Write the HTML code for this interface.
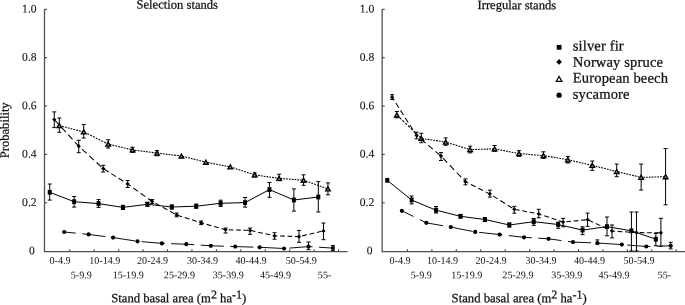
<!DOCTYPE html>
<html><head><meta charset="utf-8"><style>
html,body{margin:0;padding:0;background:#fff;}
body{width:685px;height:305px;overflow:hidden;position:relative;}
svg{position:absolute;left:0;top:0;transform:translateZ(0);}
text{font-family:"Liberation Serif",serif;fill:#111;font-variant-ligatures:none;font-feature-settings:"liga" 0;stroke:#111;stroke-width:0.25px;}
</style></head><body>
<svg width="685" height="305" viewBox="0 0 685 305">
<path d="M44.50 9.3V251.70H347.60" fill="none" stroke="#505050" stroke-width="1.3"/>
<path d="M44.50 202.82H47.10" stroke="#444" stroke-width="1.1"/>
<path d="M44.50 154.44H47.10" stroke="#444" stroke-width="1.1"/>
<path d="M44.50 106.06H47.10" stroke="#444" stroke-width="1.1"/>
<path d="M44.50 57.68H47.10" stroke="#444" stroke-width="1.1"/>
<path d="M44.50 9.30H47.10" stroke="#444" stroke-width="1.1"/>
<path d="M69.80 251.70V249.30" stroke="#444" stroke-width="1.1"/>
<path d="M94.23 251.70V249.30" stroke="#444" stroke-width="1.1"/>
<path d="M118.66 251.70V249.30" stroke="#444" stroke-width="1.1"/>
<path d="M143.09 251.70V249.30" stroke="#444" stroke-width="1.1"/>
<path d="M167.52 251.70V249.30" stroke="#444" stroke-width="1.1"/>
<path d="M191.95 251.70V249.30" stroke="#444" stroke-width="1.1"/>
<path d="M216.38 251.70V249.30" stroke="#444" stroke-width="1.1"/>
<path d="M240.81 251.70V249.30" stroke="#444" stroke-width="1.1"/>
<path d="M265.24 251.70V249.30" stroke="#444" stroke-width="1.1"/>
<path d="M289.67 251.70V249.30" stroke="#444" stroke-width="1.1"/>
<path d="M314.10 251.70V249.30" stroke="#444" stroke-width="1.1"/>
<path d="M338.53 251.70V249.30" stroke="#444" stroke-width="1.1"/>
<path d="M59.31 125.60L61.06 126.05M62.11 126.32L63.86 126.77M64.91 127.04L66.66 127.50M67.71 127.77L69.46 128.22M70.51 128.49L72.26 128.94M73.31 129.21L75.06 129.66M76.11 129.93L77.86 130.39M78.91 130.66L80.66 131.11M81.71 131.38L83.46 131.83M84.51 132.29L86.26 133.16M87.31 133.69L89.06 134.56M90.11 135.09L91.86 135.96M92.91 136.48L94.66 137.36M95.71 137.88L97.46 138.76M98.51 139.28L100.26 140.16M101.31 140.68L103.06 141.55M104.11 142.08L105.86 142.95M106.91 143.48L108.16 144.10L108.66 144.22M109.71 144.47L111.46 144.88M112.51 145.13L114.26 145.55M115.31 145.80L117.06 146.21M118.11 146.46L119.86 146.88M120.91 147.13L122.66 147.54M123.71 147.79L125.46 148.21M126.51 148.46L128.26 148.87M129.31 149.12L131.06 149.54M132.11 149.79L132.58 149.90L133.86 150.07M134.91 150.21L136.66 150.43M137.71 150.57L139.46 150.80M140.51 150.94L142.26 151.17M143.31 151.31L145.06 151.54M146.11 151.67L147.86 151.90M148.91 152.04L150.66 152.27M151.71 152.41L153.46 152.64M154.51 152.77L156.26 153.00M157.31 153.14L159.06 153.34M160.11 153.47L161.86 153.68M162.91 153.80L164.66 154.01M165.71 154.13L167.46 154.34M168.51 154.47L170.26 154.67M171.31 154.80L173.06 155.01M174.11 155.13L175.86 155.34M176.91 155.46L178.66 155.67M179.71 155.80L181.43 156.00L181.46 156.01M182.51 156.28L184.26 156.72M185.31 156.99L187.06 157.43M188.11 157.70L189.86 158.14M190.91 158.41L192.66 158.85M193.71 159.12L195.46 159.56M196.51 159.83L198.26 160.27M199.31 160.54L201.06 160.98M202.11 161.25L203.86 161.70M204.91 161.96L205.85 162.20L206.66 162.36M207.71 162.56L209.46 162.90M210.51 163.10L212.26 163.43M213.31 163.64L215.06 163.97M216.11 164.17L217.86 164.51M218.91 164.71L220.66 165.05M221.71 165.25L223.46 165.59M224.51 165.79L226.26 166.13M227.31 166.33L229.06 166.67M230.11 166.87L230.27 166.90L231.86 167.42M232.91 167.76L234.66 168.34M235.71 168.68L237.46 169.25M238.51 169.60L240.26 170.17M241.31 170.52L243.06 171.09M244.11 171.43L245.86 172.01M246.91 172.35L248.66 172.92M249.71 173.27L251.46 173.84M252.51 174.18L254.26 174.76M255.31 174.99L257.06 175.24M258.11 175.39L259.86 175.64M260.91 175.79L262.66 176.04M263.71 176.19L265.46 176.44M266.51 176.59L268.26 176.84M269.31 176.99L271.06 177.25M272.11 177.40L273.86 177.65M274.91 177.80L276.66 178.05M277.71 178.20L279.12 178.40L279.46 178.43M280.51 178.50L282.26 178.63M283.31 178.71L285.06 178.84M286.11 178.92L287.86 179.04M288.91 179.12L290.66 179.25M291.71 179.33L293.46 179.46M294.51 179.53L296.26 179.66M297.31 179.74L299.06 179.87M300.11 179.95L301.86 180.08M302.91 180.15L303.54 180.20L304.66 180.60M305.71 180.97L307.46 181.60M308.51 181.97L310.26 182.59M311.31 182.97L313.06 183.59M314.11 183.97L315.86 184.59M316.91 184.96L318.66 185.59M319.71 185.96L321.46 186.58M322.51 186.96L324.26 187.58M325.31 187.95L327.06 188.58" fill="none" stroke="#000" stroke-width="1.1"/>
<path d="M59.31 118.00V132.30M57.31 118.00H61.31M57.31 132.30H61.31" stroke="#000" stroke-width="1"/>
<path d="M83.73 124.60V138.00M81.73 124.60H85.73M81.73 138.00H85.73" stroke="#000" stroke-width="1"/>
<path d="M108.16 139.80V148.00M106.16 139.80H110.16M106.16 148.00H110.16" stroke="#000" stroke-width="1"/>
<path d="M132.58 147.30V152.50M130.58 147.30H134.58M130.58 152.50H134.58" stroke="#000" stroke-width="1"/>
<path d="M157.00 150.60V155.80M155.00 150.60H159.00M155.00 155.80H159.00" stroke="#000" stroke-width="1"/>
<path d="M254.69 172.80V177.00M252.69 172.80H256.69M252.69 177.00H256.69" stroke="#000" stroke-width="1"/>
<path d="M279.12 174.20V180.70M277.12 174.20H281.12M277.12 180.70H281.12" stroke="#000" stroke-width="1"/>
<path d="M303.54 174.80V185.30M301.54 174.80H305.54M301.54 185.30H305.54" stroke="#000" stroke-width="1"/>
<path d="M327.96 182.90V194.80M325.96 182.90H329.96M325.96 194.80H329.96" stroke="#000" stroke-width="1"/>
<path d="M59.31 123.60L61.61 127.60L57.01 127.60Z" fill="#999" stroke="#000" stroke-width="1.35"/>
<path d="M83.73 129.90L86.03 133.90L81.43 133.90Z" fill="#999" stroke="#000" stroke-width="1.35"/>
<path d="M108.16 142.10L110.46 146.10L105.86 146.10Z" fill="#999" stroke="#000" stroke-width="1.35"/>
<path d="M132.58 147.90L134.88 151.90L130.28 151.90Z" fill="#999" stroke="#000" stroke-width="1.35"/>
<path d="M157.00 151.10L159.30 155.10L154.70 155.10Z" fill="#999" stroke="#000" stroke-width="1.35"/>
<path d="M181.43 154.00L183.73 158.00L179.12 158.00Z" fill="#999" stroke="#000" stroke-width="1.35"/>
<path d="M205.85 160.20L208.15 164.20L203.55 164.20Z" fill="#999" stroke="#000" stroke-width="1.35"/>
<path d="M230.27 164.90L232.57 168.90L227.97 168.90Z" fill="#999" stroke="#000" stroke-width="1.35"/>
<path d="M254.69 172.90L256.99 176.90L252.39 176.90Z" fill="#999" stroke="#000" stroke-width="1.35"/>
<path d="M279.12 176.40L281.42 180.40L276.82 180.40Z" fill="#999" stroke="#000" stroke-width="1.35"/>
<path d="M303.54 178.20L305.84 182.20L301.24 182.20Z" fill="#999" stroke="#000" stroke-width="1.35"/>
<path d="M327.96 186.90L330.26 190.90L325.66 190.90Z" fill="#999" stroke="#000" stroke-width="1.35"/>
<path d="M54.75 120.04L59.06 124.74M61.48 127.38L65.79 132.08M68.21 134.72L72.52 139.42M74.94 142.06L78.73 146.20L79.30 146.71M81.94 149.12L86.64 153.40M89.28 155.80L93.98 160.09M96.62 162.49L101.32 166.77M103.96 168.97L108.66 171.95M111.30 173.62L116.00 176.60M118.64 178.27L123.34 181.25M125.98 182.92L127.69 184.00L130.68 186.14M133.32 188.03L138.02 191.39M140.66 193.27L145.36 196.63M148.00 198.52L152.16 201.50L152.70 201.79M155.34 203.24L160.03 205.81M162.68 207.26L167.38 209.83M170.02 211.28L174.72 213.85M177.36 215.13L182.06 216.65M184.69 217.50L189.40 219.02M192.03 219.87L196.74 221.39M199.38 222.24L201.11 222.80L204.08 223.64M206.72 224.38L211.41 225.71M214.06 226.45L218.75 227.77M221.40 228.52L225.59 229.70L226.09 229.71M228.74 229.79L233.44 229.92M236.07 230.00L240.78 230.13M243.41 230.21L248.12 230.34M250.75 230.55L255.46 231.59M258.10 232.17L262.80 233.21M265.44 233.79L270.13 234.83M272.78 235.41L274.54 235.80L277.48 235.90M280.12 235.98L284.81 236.14M287.45 236.22L292.16 236.38M294.80 236.46L299.01 236.60L299.50 236.49M302.13 235.87L306.84 234.78M309.47 234.16L314.18 233.07M316.81 232.45L321.51 231.36" fill="none" stroke="#000" stroke-width="1.05"/>
<path d="M54.26 111.90V127.60M52.26 111.90H56.26M52.26 127.60H56.26" stroke="#000" stroke-width="1"/>
<path d="M78.73 140.30V152.70M76.73 140.30H80.73M76.73 152.70H80.73" stroke="#000" stroke-width="1"/>
<path d="M103.21 165.30V172.00M101.21 165.30H105.21M101.21 172.00H105.21" stroke="#000" stroke-width="1"/>
<path d="M127.69 180.60V187.50M125.69 180.60H129.69M125.69 187.50H129.69" stroke="#000" stroke-width="1"/>
<path d="M152.16 199.50V203.50M150.16 199.50H154.16M150.16 203.50H154.16" stroke="#000" stroke-width="1"/>
<path d="M176.63 213.00V216.80M174.63 213.00H178.63M174.63 216.80H178.63" stroke="#000" stroke-width="1"/>
<path d="M201.11 221.00V224.60M199.11 221.00H203.11M199.11 224.60H203.11" stroke="#000" stroke-width="1"/>
<path d="M225.59 228.10V233.00M223.59 228.10H227.59M223.59 233.00H227.59" stroke="#000" stroke-width="1"/>
<path d="M250.06 228.10V234.30M248.06 228.10H252.06M248.06 234.30H252.06" stroke="#000" stroke-width="1"/>
<path d="M274.54 232.70V239.20M272.54 232.70H276.54M272.54 239.20H276.54" stroke="#000" stroke-width="1"/>
<path d="M299.01 230.40V242.30M297.01 230.40H301.01M297.01 242.30H301.01" stroke="#000" stroke-width="1"/>
<path d="M323.49 223.00V239.70M321.49 223.00H325.49M321.49 239.70H325.49" stroke="#000" stroke-width="1"/>
<path d="M54.26 117.40L56.36 119.50L54.26 121.60L52.16 119.50Z" fill="#000"/>
<path d="M78.73 144.10L80.83 146.20L78.73 148.30L76.64 146.20Z" fill="#000"/>
<path d="M103.21 166.40L105.31 168.50L103.21 170.60L101.11 168.50Z" fill="#000"/>
<path d="M127.69 181.90L129.78 184.00L127.69 186.10L125.59 184.00Z" fill="#000"/>
<path d="M152.16 199.40L154.26 201.50L152.16 203.60L150.06 201.50Z" fill="#000"/>
<path d="M176.63 212.80L178.73 214.90L176.63 217.00L174.53 214.90Z" fill="#000"/>
<path d="M201.11 220.70L203.21 222.80L201.11 224.90L199.01 222.80Z" fill="#000"/>
<path d="M225.59 227.60L227.69 229.70L225.59 231.80L223.49 229.70Z" fill="#000"/>
<path d="M250.06 228.30L252.16 230.40L250.06 232.50L247.96 230.40Z" fill="#000"/>
<path d="M274.54 233.70L276.64 235.80L274.54 237.90L272.44 235.80Z" fill="#000"/>
<path d="M299.01 234.50L301.11 236.60L299.01 238.70L296.91 236.60Z" fill="#000"/>
<path d="M323.49 228.80L325.59 230.90L323.49 233.00L321.38 230.90Z" fill="#000"/>
<path d="M64.20 232.00L75.80 233.14M82.30 233.78L88.63 234.40L105.40 236.60M111.90 237.45L113.06 237.60L135.00 240.92M141.50 241.65L161.91 243.40L164.60 243.49M171.10 243.70L186.34 244.20L194.20 244.71M200.70 245.14L210.77 245.80L223.80 246.23M230.30 246.44L235.20 246.60L253.40 247.12M259.90 247.31L283.00 248.45M289.50 248.08L308.48 246.60L312.60 246.85M319.10 247.25L332.91 248.10" fill="none" stroke="#000" stroke-width="0.95"/>
<path d="M308.48 242.00V249.70M306.48 242.00H310.48M306.48 249.70H310.48" stroke="#000" stroke-width="1"/>
<path d="M332.91 245.60V250.60M330.91 245.60H334.91M330.91 250.60H334.91" stroke="#000" stroke-width="1"/>
<circle cx="64.20" cy="232.00" r="2.10" fill="#000"/>
<circle cx="88.63" cy="234.40" r="2.10" fill="#000"/>
<circle cx="113.06" cy="237.60" r="2.10" fill="#000"/>
<circle cx="137.48" cy="241.30" r="2.10" fill="#000"/>
<circle cx="161.91" cy="243.40" r="2.10" fill="#000"/>
<circle cx="186.34" cy="244.20" r="2.10" fill="#000"/>
<circle cx="210.77" cy="245.80" r="2.10" fill="#000"/>
<circle cx="235.20" cy="246.60" r="2.10" fill="#000"/>
<circle cx="259.62" cy="247.30" r="2.10" fill="#000"/>
<circle cx="284.05" cy="248.50" r="2.10" fill="#000"/>
<circle cx="308.48" cy="246.60" r="2.10" fill="#000"/>
<circle cx="332.91" cy="248.10" r="2.10" fill="#000"/>
<path d="M49.73 192.30 L74.14 201.70 L98.56 203.60 L122.97 207.40 L147.39 204.30 L171.80 207.00 L196.22 206.20 L220.63 203.30 L245.05 202.60 L269.46 189.60 L293.88 200.00 L318.30 197.00" fill="none" stroke="#000" stroke-width="1.0"/>
<path d="M49.73 184.00V200.10M47.73 184.00H51.73M47.73 200.10H51.73" stroke="#000" stroke-width="1"/>
<path d="M74.14 196.50V207.10M72.14 196.50H76.14M72.14 207.10H76.14" stroke="#000" stroke-width="1"/>
<path d="M98.56 199.60V207.40M96.56 199.60H100.56M96.56 207.40H100.56" stroke="#000" stroke-width="1"/>
<path d="M122.97 205.30V209.50M120.97 205.30H124.97M120.97 209.50H124.97" stroke="#000" stroke-width="1"/>
<path d="M147.39 202.30V206.30M145.39 202.30H149.39M145.39 206.30H149.39" stroke="#000" stroke-width="1"/>
<path d="M171.80 205.00V209.00M169.80 205.00H173.80M169.80 209.00H173.80" stroke="#000" stroke-width="1"/>
<path d="M196.22 204.20V208.20M194.22 204.20H198.22M194.22 208.20H198.22" stroke="#000" stroke-width="1"/>
<path d="M220.63 200.20V206.50M218.63 200.20H222.63M218.63 206.50H222.63" stroke="#000" stroke-width="1"/>
<path d="M245.05 197.50V207.10M243.05 197.50H247.05M243.05 207.10H247.05" stroke="#000" stroke-width="1"/>
<path d="M269.46 182.50V197.30M267.46 182.50H271.46M267.46 197.30H271.46" stroke="#000" stroke-width="1"/>
<path d="M293.88 188.90V211.10M291.88 188.90H295.88M291.88 211.10H295.88" stroke="#000" stroke-width="1"/>
<path d="M318.30 181.60V212.00M316.30 181.60H320.30M316.30 212.00H320.30" stroke="#000" stroke-width="1"/>
<rect x="47.73" y="189.90" width="4.00" height="4.80" fill="#000"/>
<rect x="72.14" y="199.30" width="4.00" height="4.80" fill="#000"/>
<rect x="96.56" y="201.20" width="4.00" height="4.80" fill="#000"/>
<rect x="120.97" y="205.00" width="4.00" height="4.80" fill="#000"/>
<rect x="145.39" y="201.90" width="4.00" height="4.80" fill="#000"/>
<rect x="169.80" y="204.60" width="4.00" height="4.80" fill="#000"/>
<rect x="194.22" y="203.80" width="4.00" height="4.80" fill="#000"/>
<rect x="218.63" y="200.90" width="4.00" height="4.80" fill="#000"/>
<rect x="243.05" y="200.20" width="4.00" height="4.80" fill="#000"/>
<rect x="267.46" y="187.20" width="4.00" height="4.80" fill="#000"/>
<rect x="291.88" y="197.60" width="4.00" height="4.80" fill="#000"/>
<rect x="316.30" y="194.60" width="4.00" height="4.80" fill="#000"/>
<path d="M382.15 9.3V251.70H685.25" fill="none" stroke="#505050" stroke-width="1.3"/>
<path d="M382.15 202.82H384.75" stroke="#444" stroke-width="1.1"/>
<path d="M382.15 154.44H384.75" stroke="#444" stroke-width="1.1"/>
<path d="M382.15 106.06H384.75" stroke="#444" stroke-width="1.1"/>
<path d="M382.15 57.68H384.75" stroke="#444" stroke-width="1.1"/>
<path d="M382.15 9.30H384.75" stroke="#444" stroke-width="1.1"/>
<path d="M407.45 251.70V249.30" stroke="#444" stroke-width="1.1"/>
<path d="M431.88 251.70V249.30" stroke="#444" stroke-width="1.1"/>
<path d="M456.31 251.70V249.30" stroke="#444" stroke-width="1.1"/>
<path d="M480.74 251.70V249.30" stroke="#444" stroke-width="1.1"/>
<path d="M505.17 251.70V249.30" stroke="#444" stroke-width="1.1"/>
<path d="M529.60 251.70V249.30" stroke="#444" stroke-width="1.1"/>
<path d="M554.03 251.70V249.30" stroke="#444" stroke-width="1.1"/>
<path d="M578.46 251.70V249.30" stroke="#444" stroke-width="1.1"/>
<path d="M602.89 251.70V249.30" stroke="#444" stroke-width="1.1"/>
<path d="M627.32 251.70V249.30" stroke="#444" stroke-width="1.1"/>
<path d="M651.75 251.70V249.30" stroke="#444" stroke-width="1.1"/>
<path d="M676.18 251.70V249.30" stroke="#444" stroke-width="1.1"/>
<path d="M396.84 115.00L398.59 116.68M399.64 117.68L401.39 119.36M402.44 120.36L404.19 122.04M405.24 123.05L406.99 124.72M408.04 125.73L409.79 127.40M410.84 128.41L412.59 130.09M413.64 131.09L415.39 132.77M416.44 133.77L418.19 135.45M419.24 136.46L420.99 138.13M422.04 138.52L423.79 138.78M424.84 138.94L426.59 139.21M427.64 139.36L429.39 139.63M430.44 139.79L432.19 140.05M433.24 140.21L434.99 140.48M436.04 140.64L437.79 140.90M438.84 141.06L440.59 141.33M441.64 141.49L443.39 141.75M444.44 141.91L445.70 142.10L446.19 142.25M447.24 142.57L448.99 143.11M450.04 143.43L451.79 143.97M452.84 144.29L454.59 144.83M455.64 145.15L457.39 145.69M458.44 146.01L460.19 146.55M461.24 146.87L462.99 147.41M464.04 147.73L465.79 148.27M466.84 148.59L468.59 149.13M469.64 149.45L470.13 149.60L471.39 149.56M472.44 149.53L474.19 149.48M475.24 149.45L476.99 149.40M478.04 149.37L479.79 149.32M480.84 149.29L482.59 149.24M483.64 149.21L485.39 149.16M486.44 149.13L488.19 149.08M489.24 149.05L490.99 149.00M492.04 148.97L493.79 148.92M494.84 148.95L496.59 149.29M497.64 149.49L499.39 149.83M500.44 150.03L502.19 150.37M503.24 150.57L504.99 150.91M506.04 151.11L507.79 151.45M508.84 151.65L510.59 151.98M511.64 152.19L513.39 152.52M514.44 152.72L516.19 153.06M517.24 153.26L518.99 153.60M520.04 153.69L521.79 153.83M522.84 153.92L524.59 154.06M525.64 154.14L527.39 154.29M528.44 154.37L530.19 154.52M531.24 154.60L532.99 154.75M534.04 154.83L535.79 154.98M536.84 155.06L538.59 155.20M539.64 155.29L541.39 155.43M542.44 155.52L543.42 155.60L544.19 155.73M545.24 155.91L546.99 156.20M548.04 156.38L549.79 156.67M550.84 156.85L552.59 157.14M553.64 157.32L555.39 157.61M556.44 157.79L558.19 158.08M559.24 158.26L560.99 158.55M562.04 158.72L563.79 159.02M564.84 159.19L566.59 159.49M567.64 159.66L567.85 159.70L569.39 160.06M570.44 160.30L572.19 160.71M573.24 160.96L574.99 161.37M576.04 161.61L577.79 162.02M578.84 162.26L580.59 162.67M581.64 162.92L583.39 163.33M584.44 163.57L586.19 163.98M587.24 164.22L588.99 164.63M590.04 164.88L591.79 165.29M592.84 165.54L594.59 165.98M595.64 166.24L597.39 166.68M598.44 166.94L600.19 167.38M601.24 167.64L602.99 168.07M604.04 168.34L605.79 168.77M606.84 169.04L608.59 169.47M609.64 169.73L611.39 170.17M612.44 170.43L614.19 170.87M615.24 171.13L616.71 171.50L616.99 171.57M618.04 171.82L619.79 172.24M620.84 172.50L622.59 172.92M623.64 173.17L625.39 173.60M626.44 173.85L628.19 174.27M629.24 174.53L630.99 174.95M632.04 175.20L633.79 175.62M634.84 175.88L636.59 176.30M637.64 176.55L639.39 176.98M640.44 177.23L641.14 177.40L642.19 177.37M643.24 177.34L644.99 177.29M646.04 177.26L647.79 177.21M648.84 177.18L650.59 177.13M651.64 177.10L653.39 177.05M654.44 177.02L656.19 176.97M657.24 176.94L658.99 176.89M660.04 176.86L661.79 176.81M662.84 176.78L664.59 176.73" fill="none" stroke="#000" stroke-width="1.1"/>
<path d="M396.84 111.50V117.80M394.84 111.50H398.84M394.84 117.80H398.84" stroke="#000" stroke-width="1"/>
<path d="M421.27 133.30V142.70M419.27 133.30H423.27M419.27 142.70H423.27" stroke="#000" stroke-width="1"/>
<path d="M445.70 137.90V145.30M443.70 137.90H447.70M443.70 145.30H447.70" stroke="#000" stroke-width="1"/>
<path d="M470.13 146.20V152.90M468.13 146.20H472.13M468.13 152.90H472.13" stroke="#000" stroke-width="1"/>
<path d="M494.56 145.50V151.40M492.56 145.50H496.56M492.56 151.40H496.56" stroke="#000" stroke-width="1"/>
<path d="M518.99 150.70V156.30M516.99 150.70H520.99M516.99 156.30H520.99" stroke="#000" stroke-width="1"/>
<path d="M543.42 151.80V158.40M541.42 151.80H545.42M541.42 158.40H545.42" stroke="#000" stroke-width="1"/>
<path d="M567.85 156.40V163.00M565.85 156.40H569.85M565.85 163.00H569.85" stroke="#000" stroke-width="1"/>
<path d="M592.28 161.00V170.30M590.28 161.00H594.28M590.28 170.30H594.28" stroke="#000" stroke-width="1"/>
<path d="M616.71 164.10V176.70M614.71 164.10H618.71M614.71 176.70H618.71" stroke="#000" stroke-width="1"/>
<path d="M641.14 164.10V190.00M639.14 164.10H643.14M639.14 190.00H643.14" stroke="#000" stroke-width="1"/>
<path d="M665.57 148.50V204.80M663.57 148.50H667.57M663.57 204.80H667.57" stroke="#000" stroke-width="1"/>
<path d="M396.84 113.00L399.14 117.00L394.54 117.00Z" fill="#999" stroke="#000" stroke-width="1.35"/>
<path d="M421.27 136.40L423.57 140.40L418.97 140.40Z" fill="#999" stroke="#000" stroke-width="1.35"/>
<path d="M445.70 140.10L448.00 144.10L443.40 144.10Z" fill="#999" stroke="#000" stroke-width="1.35"/>
<path d="M470.13 147.60L472.43 151.60L467.83 151.60Z" fill="#999" stroke="#000" stroke-width="1.35"/>
<path d="M494.56 146.90L496.86 150.90L492.26 150.90Z" fill="#999" stroke="#000" stroke-width="1.35"/>
<path d="M518.99 151.60L521.29 155.60L516.69 155.60Z" fill="#999" stroke="#000" stroke-width="1.35"/>
<path d="M543.42 153.60L545.72 157.60L541.12 157.60Z" fill="#999" stroke="#000" stroke-width="1.35"/>
<path d="M567.85 157.70L570.15 161.70L565.55 161.70Z" fill="#999" stroke="#000" stroke-width="1.35"/>
<path d="M592.28 163.40L594.58 167.40L589.98 167.40Z" fill="#999" stroke="#000" stroke-width="1.35"/>
<path d="M616.71 169.50L619.01 173.50L614.41 173.50Z" fill="#999" stroke="#000" stroke-width="1.35"/>
<path d="M641.14 175.40L643.44 179.40L638.84 179.40Z" fill="#999" stroke="#000" stroke-width="1.35"/>
<path d="M665.57 174.70L667.87 178.70L663.27 178.70Z" fill="#999" stroke="#000" stroke-width="1.35"/>
<path d="M392.12 97.20L394.16 100.40M395.85 103.04L398.84 107.74M400.53 110.38L403.53 115.08M405.21 117.72L408.21 122.42M409.89 125.06L412.89 129.76M414.58 132.40L416.56 135.50L418.16 136.84M420.80 139.06L425.50 143.00M428.13 145.22L432.84 149.16M435.48 151.37L440.18 155.32M442.73 157.82L447.19 162.53M449.70 165.16L454.17 169.87M456.68 172.50L461.15 177.20M463.66 179.84L465.43 181.70L468.27 183.13M470.91 184.46L475.61 186.83M478.25 188.16L482.95 190.52M485.59 191.85L489.86 194.00L490.29 194.27M492.93 195.92L497.63 198.87M500.27 200.52L504.97 203.46M507.61 205.11L512.31 208.06M514.95 209.42L519.65 210.31M522.29 210.81L526.99 211.69M529.63 212.19L534.33 213.07M536.97 213.57L538.73 213.90L541.67 214.89M544.31 215.77L549.01 217.35M551.65 218.24L556.35 219.81M558.99 220.70L563.16 222.10L563.69 222.05M566.33 221.79L571.03 221.33M573.67 221.07L578.37 220.61M581.01 220.35L585.71 219.89M588.35 220.05L593.05 222.22M595.69 223.44L600.39 225.61M603.03 226.84L607.73 229.01M610.37 230.23L612.03 231.00L615.07 231.20M617.71 231.37L622.41 231.68M625.05 231.85L629.75 232.16M632.39 232.33L636.47 232.60L637.09 232.61M639.73 232.63L644.43 232.67M647.07 232.69L651.77 232.73M654.41 232.75L659.11 232.79" fill="none" stroke="#000" stroke-width="1.05"/>
<path d="M392.12 94.70V99.50M390.12 94.70H394.12M390.12 99.50H394.12" stroke="#000" stroke-width="1"/>
<path d="M416.56 132.20V138.80M414.56 132.20H418.56M414.56 138.80H418.56" stroke="#000" stroke-width="1"/>
<path d="M440.99 152.60V160.50M438.99 152.60H442.99M438.99 160.50H442.99" stroke="#000" stroke-width="1"/>
<path d="M465.43 178.90V184.80M463.43 178.90H467.43M463.43 184.80H467.43" stroke="#000" stroke-width="1"/>
<path d="M489.86 190.20V197.10M487.86 190.20H491.86M487.86 197.10H491.86" stroke="#000" stroke-width="1"/>
<path d="M514.29 206.40V213.20M512.29 206.40H516.29M512.29 213.20H516.29" stroke="#000" stroke-width="1"/>
<path d="M538.73 209.30V217.80M536.73 209.30H540.73M536.73 217.80H540.73" stroke="#000" stroke-width="1"/>
<path d="M563.16 218.40V226.80M561.16 218.40H565.16M561.16 226.80H565.16" stroke="#000" stroke-width="1"/>
<path d="M587.60 213.10V226.40M585.60 213.10H589.60M585.60 226.40H589.60" stroke="#000" stroke-width="1"/>
<path d="M612.03 225.00V237.90M610.03 225.00H614.03M610.03 237.90H614.03" stroke="#000" stroke-width="1"/>
<path d="M636.47 212.00V251.00M634.47 212.00H638.47M634.47 251.00H638.47" stroke="#000" stroke-width="1"/>
<path d="M660.90 218.30V246.30M658.90 218.30H662.90M658.90 246.30H662.90" stroke="#000" stroke-width="1"/>
<path d="M392.12 95.10L394.22 97.20L392.12 99.30L390.02 97.20Z" fill="#000"/>
<path d="M416.56 133.40L418.66 135.50L416.56 137.60L414.45 135.50Z" fill="#000"/>
<path d="M440.99 153.90L443.09 156.00L440.99 158.10L438.89 156.00Z" fill="#000"/>
<path d="M465.43 179.60L467.53 181.70L465.43 183.80L463.32 181.70Z" fill="#000"/>
<path d="M489.86 191.90L491.96 194.00L489.86 196.10L487.76 194.00Z" fill="#000"/>
<path d="M514.29 207.20L516.39 209.30L514.29 211.40L512.19 209.30Z" fill="#000"/>
<path d="M538.73 211.80L540.83 213.90L538.73 216.00L536.63 213.90Z" fill="#000"/>
<path d="M563.16 220.00L565.26 222.10L563.16 224.20L561.06 222.10Z" fill="#000"/>
<path d="M587.60 217.60L589.70 219.70L587.60 221.80L585.50 219.70Z" fill="#000"/>
<path d="M612.03 228.90L614.13 231.00L612.03 233.10L609.93 231.00Z" fill="#000"/>
<path d="M636.47 230.50L638.57 232.60L636.47 234.70L634.37 232.60Z" fill="#000"/>
<path d="M660.90 230.70L663.00 232.80L660.90 234.90L658.80 232.80Z" fill="#000"/>
<path d="M401.87 210.80L413.47 216.50M419.97 219.69L426.31 222.80L443.07 225.75M449.57 226.89L450.75 227.10L472.67 231.41M479.17 232.34L499.63 234.60L502.27 234.89M508.77 235.61L524.07 237.30L531.87 237.78M538.37 238.18L548.51 238.80L561.47 240.55M567.97 241.43L572.95 242.10L591.07 242.77M597.57 243.01L620.67 244.52M627.17 245.02L646.27 246.50L650.27 246.39M656.77 246.20L670.71 245.80" fill="none" stroke="#000" stroke-width="0.95"/>
<path d="M597.39 239.90V244.00M595.39 239.90H599.39M595.39 244.00H599.39" stroke="#000" stroke-width="1"/>
<path d="M670.71 242.30V248.90M668.71 242.30H672.71M668.71 248.90H672.71" stroke="#000" stroke-width="1"/>
<circle cx="401.87" cy="210.80" r="2.10" fill="#000"/>
<circle cx="426.31" cy="222.80" r="2.10" fill="#000"/>
<circle cx="450.75" cy="227.10" r="2.10" fill="#000"/>
<circle cx="475.19" cy="231.90" r="2.10" fill="#000"/>
<circle cx="499.63" cy="234.60" r="2.10" fill="#000"/>
<circle cx="524.07" cy="237.30" r="2.10" fill="#000"/>
<circle cx="548.51" cy="238.80" r="2.10" fill="#000"/>
<circle cx="572.95" cy="242.10" r="2.10" fill="#000"/>
<circle cx="597.39" cy="243.00" r="2.10" fill="#000"/>
<circle cx="621.83" cy="244.60" r="2.10" fill="#000"/>
<circle cx="646.27" cy="246.50" r="2.10" fill="#000"/>
<circle cx="670.71" cy="245.80" r="2.10" fill="#000"/>
<path d="M387.23 180.30 L411.65 200.00 L436.07 210.20 L460.48 216.30 L484.90 219.50 L509.32 225.00 L533.74 221.70 L558.16 224.50 L582.57 230.10 L606.99 226.60 L631.41 230.80 L655.83 239.20" fill="none" stroke="#000" stroke-width="1.0"/>
<path d="M411.65 196.00V203.90M409.65 196.00H413.65M409.65 203.90H413.65" stroke="#000" stroke-width="1"/>
<path d="M436.07 206.50V213.00M434.07 206.50H438.07M434.07 213.00H438.07" stroke="#000" stroke-width="1"/>
<path d="M460.48 214.50V218.00M458.48 214.50H462.48M458.48 218.00H462.48" stroke="#000" stroke-width="1"/>
<path d="M484.90 217.50V221.50M482.90 217.50H486.90M482.90 221.50H486.90" stroke="#000" stroke-width="1"/>
<path d="M509.32 223.00V227.00M507.32 223.00H511.32M507.32 227.00H511.32" stroke="#000" stroke-width="1"/>
<path d="M533.74 218.50V225.40M531.74 218.50H535.74M531.74 225.40H535.74" stroke="#000" stroke-width="1"/>
<path d="M558.16 222.10V228.30M556.16 222.10H560.16M556.16 228.30H560.16" stroke="#000" stroke-width="1"/>
<path d="M582.57 226.80V234.60M580.57 226.80H584.57M580.57 234.60H584.57" stroke="#000" stroke-width="1"/>
<path d="M606.99 217.00V235.80M604.99 217.00H608.99M604.99 235.80H608.99" stroke="#000" stroke-width="1"/>
<path d="M631.41 212.00V251.00M629.41 212.00H633.41M629.41 251.00H633.41" stroke="#000" stroke-width="1"/>
<path d="M655.83 233.50V245.80M653.83 233.50H657.83M653.83 245.80H657.83" stroke="#000" stroke-width="1"/>
<rect x="385.23" y="177.90" width="4.00" height="4.80" fill="#000"/>
<rect x="409.65" y="197.60" width="4.00" height="4.80" fill="#000"/>
<rect x="434.07" y="207.80" width="4.00" height="4.80" fill="#000"/>
<rect x="458.48" y="213.90" width="4.00" height="4.80" fill="#000"/>
<rect x="482.90" y="217.10" width="4.00" height="4.80" fill="#000"/>
<rect x="507.32" y="222.60" width="4.00" height="4.80" fill="#000"/>
<rect x="531.74" y="219.30" width="4.00" height="4.80" fill="#000"/>
<rect x="556.16" y="222.10" width="4.00" height="4.80" fill="#000"/>
<rect x="580.57" y="227.70" width="4.00" height="4.80" fill="#000"/>
<rect x="604.99" y="224.20" width="4.00" height="4.80" fill="#000"/>
<rect x="629.41" y="228.40" width="4.00" height="4.80" fill="#000"/>
<rect x="653.83" y="236.80" width="4.00" height="4.80" fill="#000"/>
<text transform="translate(34.80 254.35) rotate(0.05)" font-size="11.6" text-anchor="end" style="stroke-width:0.1px;">0</text>
<text transform="translate(36.60 205.97) rotate(0.05)" font-size="11.6" text-anchor="end" style="stroke-width:0.1px;">0.2</text>
<text transform="translate(36.60 157.59) rotate(0.05)" font-size="11.6" text-anchor="end" style="stroke-width:0.1px;">0.4</text>
<text transform="translate(36.60 109.21) rotate(0.05)" font-size="11.6" text-anchor="end" style="stroke-width:0.1px;">0.6</text>
<text transform="translate(36.60 60.83) rotate(0.05)" font-size="11.6" text-anchor="end" style="stroke-width:0.1px;">0.8</text>
<text transform="translate(36.60 12.45) rotate(0.05)" font-size="11.6" text-anchor="end" style="stroke-width:0.1px;">1.0</text>
<text transform="translate(372.45 254.35) rotate(0.05)" font-size="11.6" text-anchor="end" style="stroke-width:0.1px;">0</text>
<text transform="translate(374.25 205.97) rotate(0.05)" font-size="11.6" text-anchor="end" style="stroke-width:0.1px;">0.2</text>
<text transform="translate(374.25 157.59) rotate(0.05)" font-size="11.6" text-anchor="end" style="stroke-width:0.1px;">0.4</text>
<text transform="translate(374.25 109.21) rotate(0.05)" font-size="11.6" text-anchor="end" style="stroke-width:0.1px;">0.6</text>
<text transform="translate(374.25 60.83) rotate(0.05)" font-size="11.6" text-anchor="end" style="stroke-width:0.1px;">0.8</text>
<text transform="translate(374.25 12.45) rotate(0.05)" font-size="11.6" text-anchor="end" style="stroke-width:0.1px;">1.0</text>
<text transform="translate(60.00 263.70) rotate(0.05)" font-size="10.1" text-anchor="middle" style="stroke-width:0px;">0-4.9</text>
<text transform="translate(81.30 278.30) rotate(0.05)" font-size="10.1" text-anchor="middle" style="stroke-width:0px;">5-9.9</text>
<text transform="translate(104.85 263.70) rotate(0.05)" font-size="10.1" text-anchor="middle" style="stroke-width:0px;">10-14.9</text>
<text transform="translate(128.20 278.30) rotate(0.05)" font-size="10.1" text-anchor="middle" style="stroke-width:0px;">15-19.9</text>
<text transform="translate(152.60 263.70) rotate(0.05)" font-size="10.1" text-anchor="middle" style="stroke-width:0px;">20-24.9</text>
<text transform="translate(179.40 278.30) rotate(0.05)" font-size="10.1" text-anchor="middle" style="stroke-width:0px;">25-29.9</text>
<text transform="translate(202.60 263.70) rotate(0.05)" font-size="10.1" text-anchor="middle" style="stroke-width:0px;">30-34.9</text>
<text transform="translate(228.25 278.30) rotate(0.05)" font-size="10.1" text-anchor="middle" style="stroke-width:0px;">35-39.9</text>
<text transform="translate(251.00 263.70) rotate(0.05)" font-size="10.1" text-anchor="middle" style="stroke-width:0px;">40-44.9</text>
<text transform="translate(275.50 278.30) rotate(0.05)" font-size="10.1" text-anchor="middle" style="stroke-width:0px;">45-49.9</text>
<text transform="translate(301.35 263.70) rotate(0.05)" font-size="10.1" text-anchor="middle" style="stroke-width:0px;">50-54.9</text>
<text transform="translate(324.60 278.30) rotate(0.05)" font-size="10.1" text-anchor="middle" style="stroke-width:0px;">55-</text>
<text transform="translate(400.00 263.70) rotate(0.05)" font-size="10.1" text-anchor="middle" style="stroke-width:0px;">0-4.9</text>
<text transform="translate(421.30 278.30) rotate(0.05)" font-size="10.1" text-anchor="middle" style="stroke-width:0px;">5-9.9</text>
<text transform="translate(442.60 263.70) rotate(0.05)" font-size="10.1" text-anchor="middle" style="stroke-width:0px;">10-14.9</text>
<text transform="translate(466.70 278.30) rotate(0.05)" font-size="10.1" text-anchor="middle" style="stroke-width:0px;">15-19.9</text>
<text transform="translate(491.10 263.70) rotate(0.05)" font-size="10.1" text-anchor="middle" style="stroke-width:0px;">20-24.9</text>
<text transform="translate(517.90 278.30) rotate(0.05)" font-size="10.1" text-anchor="middle" style="stroke-width:0px;">25-29.9</text>
<text transform="translate(541.10 263.70) rotate(0.05)" font-size="10.1" text-anchor="middle" style="stroke-width:0px;">30-34.9</text>
<text transform="translate(566.75 278.30) rotate(0.05)" font-size="10.1" text-anchor="middle" style="stroke-width:0px;">35-39.9</text>
<text transform="translate(589.50 263.70) rotate(0.05)" font-size="10.1" text-anchor="middle" style="stroke-width:0px;">40-44.9</text>
<text transform="translate(614.00 278.30) rotate(0.05)" font-size="10.1" text-anchor="middle" style="stroke-width:0px;">45-49.9</text>
<text transform="translate(639.10 263.70) rotate(0.05)" font-size="10.1" text-anchor="middle" style="stroke-width:0px;">50-54.9</text>
<text transform="translate(664.40 278.30) rotate(0.05)" font-size="10.1" text-anchor="middle" style="stroke-width:0px;">55-</text>
<text transform="translate(111.20 302.20) rotate(0.05)" font-size="12.7">Stand basal area (m<tspan dy="-3.7" font-size="12">2</tspan><tspan dy="3.7"> ha</tspan><tspan dy="-3.7" font-size="12">-1</tspan><tspan dy="3.7">)</tspan></text>
<text transform="translate(451.60 302.20) rotate(0.05)" font-size="12.7">Stand basal area (m<tspan dy="-3.7" font-size="12">2</tspan><tspan dy="3.7"> ha</tspan><tspan dy="-3.7" font-size="12">-1</tspan><tspan dy="3.7">)</tspan></text>
<text transform="translate(136.50 8.60) rotate(0.05)" font-size="12.6">Selection stands</text>
<text transform="translate(477.50 9.10) rotate(0.05)" font-size="12.6">Irregular stands</text>
<text transform="translate(8.80 158.30) rotate(-90) rotate(0.05)" font-size="12.6">Probability</text>
<rect x="556.70" y="44.90" width="4.80" height="4.80" fill="#000"/>
<text transform="translate(572.80 50.50) rotate(0.05)" font-size="14.6" style="letter-spacing:0.12px;">silver fir</text>
<path d="M559.10 59.06L561.94 61.90L559.10 64.73L556.26 61.90Z" fill="#000"/>
<text transform="translate(572.80 66.70) rotate(0.05)" font-size="14.6" style="letter-spacing:0.12px;">Norway spruce</text>
<path d="M559.10 76.50L561.86 81.30L556.34 81.30Z" fill="#fff" stroke="#000" stroke-width="1.3"/>
<text transform="translate(572.80 82.60) rotate(0.05)" font-size="14.6" style="letter-spacing:0.12px;">European beech</text>
<circle cx="559.10" cy="95.20" r="2.62" fill="#000"/>
<text transform="translate(572.80 98.70) rotate(0.05)" font-size="14.6" style="letter-spacing:0.12px;">sycamore</text>
</svg>
</body></html>
